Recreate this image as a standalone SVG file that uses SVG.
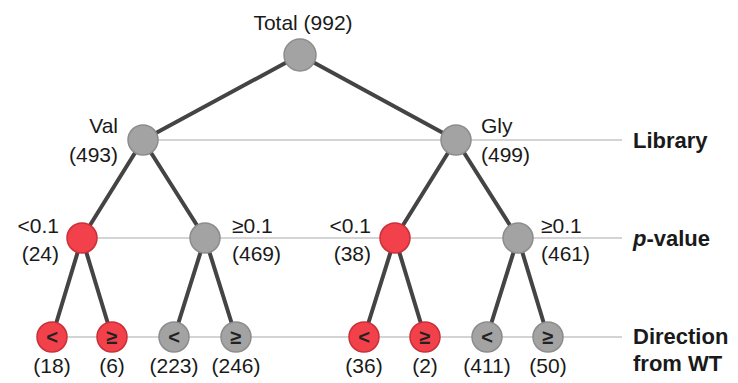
<svg xmlns="http://www.w3.org/2000/svg" width="738" height="383" viewBox="0 0 738 383">
<style>
text{font-family:"Liberation Sans",Arial,sans-serif;font-size:21px;fill:#1a1a1a}
.b{font-weight:bold;font-size:22px}
.guide{stroke:#d4d4d4;stroke-width:2;fill:none}
.edge{stroke:#444;stroke-width:4;fill:none;stroke-linecap:round}
.g{fill:#a3a3a3;stroke:#8c8c8c;stroke-width:1.5}
.r{fill:#f3414b;stroke:#c83038;stroke-width:1.5}
.sym{font-size:20px;font-weight:bold;text-anchor:middle;fill:#222}
.m{text-anchor:middle}
.e{text-anchor:end}
</style>
<rect width="738" height="383" fill="#fff"/>
<g id="guides">
<line class="guide" x1="158" y1="140" x2="622" y2="140"/>
<line class="guide" x1="97" y1="238" x2="622" y2="238"/>
<line class="guide" x1="52" y1="337" x2="622" y2="337"/>
</g>
<g id="connectors">
<line class="edge" x1="300" y1="55" x2="143" y2="140"/>
<line class="edge" x1="300" y1="55" x2="456" y2="140"/>
<line class="edge" x1="143" y1="140" x2="82" y2="238"/>
<line class="edge" x1="143" y1="140" x2="205" y2="238"/>
<line class="edge" x1="456" y1="140" x2="395" y2="238"/>
<line class="edge" x1="456" y1="140" x2="518" y2="238"/>
<line class="edge" x1="82" y1="238" x2="52" y2="337"/>
<line class="edge" x1="82" y1="238" x2="112" y2="337"/>
<line class="edge" x1="205" y1="238" x2="174" y2="337"/>
<line class="edge" x1="205" y1="238" x2="236" y2="337"/>
<line class="edge" x1="395" y1="238" x2="364" y2="337"/>
<line class="edge" x1="395" y1="238" x2="425" y2="337"/>
<line class="edge" x1="518" y1="238" x2="487" y2="337"/>
<line class="edge" x1="518" y1="238" x2="548" y2="337"/>
</g>
<g id="root"><circle class="g" cx="300" cy="55" r="16"/><text class="m" x="303" y="30">Total (992)</text></g>
<g id="val"><circle class="g" cx="143" cy="140" r="15"/><text class="e" x="118" y="133">Val</text><text class="e" x="118" y="162">(493)</text></g>
<g id="gly"><circle class="g" cx="456" cy="140" r="15"/><text x="481" y="133">Gly</text><text x="481" y="162">(499)</text></g>
<g id="val-lt"><circle class="r" cx="82" cy="238" r="15"/><text class="e" x="59" y="233">&lt;0.1</text><text class="e" x="59" y="261">(24)</text></g>
<g id="val-ge"><circle class="g" cx="205" cy="238" r="15"/><text x="232" y="233">≥0.1</text><text x="232" y="261">(469)</text></g>
<g id="gly-lt"><circle class="r" cx="395" cy="238" r="15"/><text class="e" x="371" y="233">&lt;0.1</text><text class="e" x="371" y="261">(38)</text></g>
<g id="gly-ge"><circle class="g" cx="518" cy="238" r="15"/><text x="541" y="233">≥0.1</text><text x="541" y="261">(461)</text></g>
<g id="n1"><circle class="r" cx="52" cy="337" r="15"/><text class="sym" x="52" y="344">&lt;</text><text class="m" x="52" y="373">(18)</text></g>
<g id="n2"><circle class="r" cx="112" cy="337" r="15"/><text class="sym" x="112" y="344">≥</text><text class="m" x="112" y="373">(6)</text></g>
<g id="n3"><circle class="g" cx="174" cy="337" r="15"/><text class="sym" x="174" y="344">&lt;</text><text class="m" x="174" y="373">(223)</text></g>
<g id="n4"><circle class="g" cx="236" cy="337" r="15"/><text class="sym" x="236" y="344">≥</text><text class="m" x="236" y="373">(246)</text></g>
<g id="n5"><circle class="r" cx="364" cy="337" r="15"/><text class="sym" x="364" y="344">&lt;</text><text class="m" x="364" y="373">(36)</text></g>
<g id="n6"><circle class="r" cx="425" cy="337" r="15"/><text class="sym" x="425" y="344">≥</text><text class="m" x="425" y="373">(2)</text></g>
<g id="n7"><circle class="g" cx="487" cy="337" r="15"/><text class="sym" x="487" y="344">&lt;</text><text class="m" x="487" y="373">(411)</text></g>
<g id="n8"><circle class="g" cx="548" cy="337" r="15"/><text class="sym" x="548" y="344">≥</text><text class="m" x="548" y="373">(50)</text></g>
<g id="labels">
<text class="b" x="633" y="148">Library</text>
<text class="b" x="633" y="246"><tspan font-style="italic">p</tspan>-value</text>
<text class="b" x="633" y="344">Direction</text>
<text class="b" x="633" y="371">from WT</text>
</g>
</svg>
